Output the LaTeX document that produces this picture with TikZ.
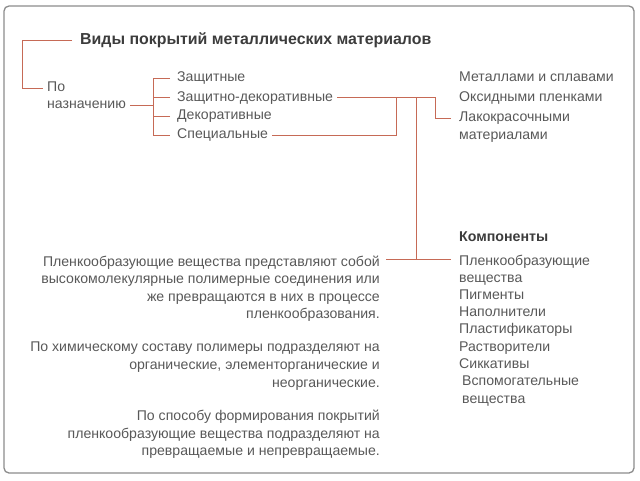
\documentclass[tikz,border=0pt]{standalone}
\usepackage{fontspec}
\setmainfont{Liberation Sans}
\definecolor{linec}{RGB}{198,106,86}
\definecolor{txt}{RGB}{88,88,88}
\definecolor{ttl}{RGB}{60,60,60}
\definecolor{frm}{RGB}{140,140,140}
\begin{document}
\begin{tikzpicture}[x=1pt,y=-1pt,
  lbl/.style={inner sep=0pt,anchor=west,text=txt,font=\fontsize{14.1}{17}\selectfont,text height=10pt,text depth=3pt},
  para/.style={inner sep=0pt,text=txt,align=right,font=\fontsize{14.1}{17.6}\selectfont},
  lst/.style={inner sep=0pt,text=txt,align=left,font=\fontsize{14.1}{17.1}\selectfont},
  conn/.style={draw=linec,line width=0.9pt}]
\useasboundingbox (0,0) rectangle (640,480);
\draw[frm,line width=1.3pt,rounded corners=5pt] (4,6) rectangle (634,473);

% texts
\node[lbl,anchor=west,text=ttl,font=\bfseries\fontsize{15.9}{18}\selectfont] (title) at (80,40.5) {Виды покрытий металлических материалов};
\node[lbl] (po) at (47,88) {По};
\node[lbl] (naz) at (47,105) {назначению};
\node[lbl] (zash) at (177,78) {Защитные};
\node[lbl] (zd) at (177,97.5) {Защитно-декоративные};
\node[lbl] (dek) at (177,116) {Декоративные};
\node[lbl] (spec) at (177,135) {Специальные};
\node[lbl] (met) at (459,78) {Металлами и сплавами};
\node[lbl] (oks) at (459,98) {Оксидными пленками};
\node[lst,anchor=north west] (lak) at (459,112) {Лакокрасочными\\материалами};
\node[lbl,text=ttl,font=\bfseries\fontsize{14.2}{17}\selectfont] (komp) at (459,238) {Компоненты};
\node[lst,anchor=north west] (comps) at (459,255) {Пленкообразующие\\вещества\\Пигменты\\Наполнители\\Пластификаторы\\Растворители\\Сиккативы};
\node[lst,anchor=north west] (vsp) at (462,376) {Вспомогательные\\вещества};
\node[para,anchor=north east] (p1) at (380,255.5) {Пленкообразующие вещества представляют собой\\высокомолекулярные полимерные соединения или\\же превращаются в них в процессе\\пленкообразования.};
\node[para,anchor=north east] (p2) at (380,342) {По химическому составу полимеры подразделяют на\\органические, элементорганические и\\неорганические.};
\node[para,anchor=north east] (p3) at (380,410) {По способу формирования покрытий\\пленкообразующие вещества подразделяют на\\превращаемые и непревращаемые.};

% bracket columns
\coordinate (tx) at (22,0);
\coordinate (bx) at (153,0);
\coordinate (lx) at (396,0);
\coordinate (mx) at (416,0);
\coordinate (rx) at (435,0);
\coordinate (lakin) at ([xshift=-8pt,yshift=-6pt]lak.north west);
\coordinate (compin) at ([xshift=-8pt,yshift=-4.5pt]comps.north west);
\coordinate (p1out) at ([xshift=6pt,yshift=-4pt]p1.north east);

% connectors
\draw[conn] ([xshift=-8pt]title.west) -| (tx |- po.west) -- ([xshift=-4pt]po.west);
\draw[conn] ([xshift=4pt]naz.east) -- (bx |- naz.east);
\draw[conn] ([xshift=-7pt]zash.west) -| (bx |- spec.west) -- ([xshift=-7pt]spec.west);
\draw[conn] ([xshift=-7pt]zd.west) -- (bx |- zd.west);
\draw[conn] ([xshift=-7pt]dek.west) -- (bx |- dek.west);
\draw[conn] ([xshift=4pt]zd.east) -- (rx |- zd.east) |- (lakin);
\draw[conn] ([xshift=4pt]spec.east) -| (lx |- zd.east);
\draw[conn] (mx |- zd.east) -- (mx |- compin);
\draw[conn] (p1out) -- (compin);
\end{tikzpicture}
\end{document}
